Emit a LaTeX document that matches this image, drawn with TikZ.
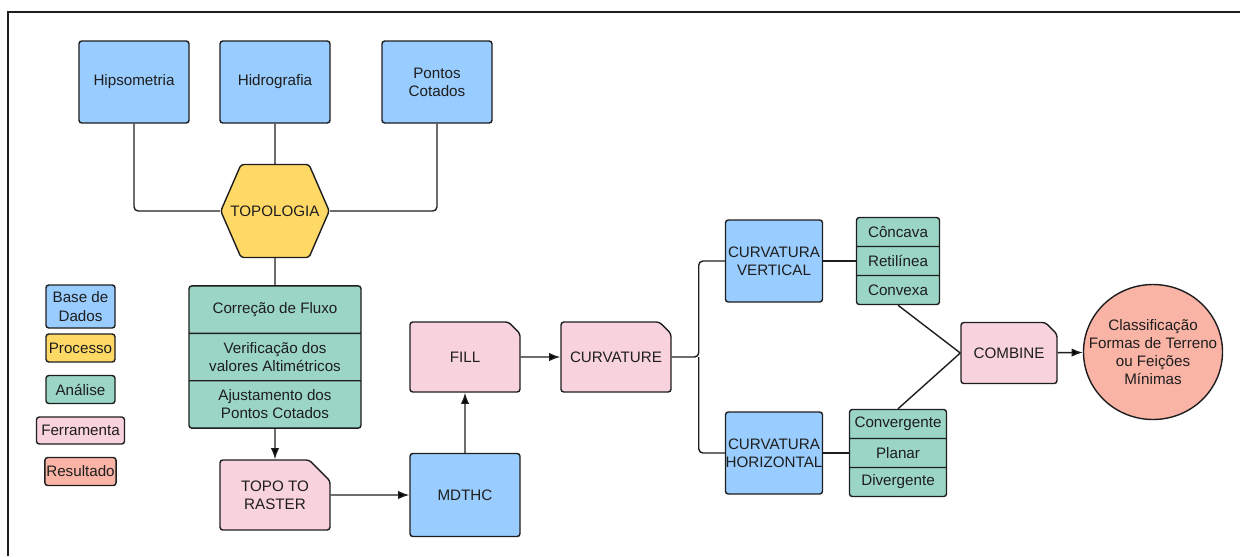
\documentclass[tikz,border=0pt]{standalone}
\usepackage{fontspec}
\setmainfont{Liberation Sans}
\usetikzlibrary{shapes.geometric,shapes.misc,shapes.multipart,shapes.symbols,arrows.meta}
\definecolor{cdados}{HTML}{99CCFF}
\definecolor{cproc}{HTML}{FFD966}
\definecolor{canal}{HTML}{9AD5C5}
\definecolor{cferr}{HTML}{F8D2DC}
\definecolor{cres}{HTML}{F9B4A6}
\definecolor{linha}{HTML}{1E1E1E}
\newcommand{\cellbox}[3]{\parbox[c][#1][c]{#2}{\centering #3}}
\begin{document}
\begin{tikzpicture}[font=\fontsize{10.8}{13}\selectfont, line width=1pt,
  box/.style={draw=linha, rounded corners=2pt, align=center, inner sep=1pt, text=linha},
  dados/.style={box, fill=cdados, minimum width=2.75cm, minimum height=2.05cm},
  ferr/.style={box, fill=cferr, chamfered rectangle, chamfered rectangle corners=north east,
    chamfered rectangle xsep=0.5cm, minimum width=2.75cm, minimum height=1.75cm},
  pilha/.style={draw=linha, fill=canal, rounded corners=2pt, rectangle split, rectangle split parts=3, inner sep=0pt, text=linha},
  leg/.style={box, minimum width=1.725cm, minimum height=0.7cm},
  lig/.style={draw=linha, rounded corners=3pt},
  seta/.style={lig, -{Latex[length=8pt,width=6pt]}}]
\useasboundingbox (0,0) rectangle (31,-13.9);
\draw[linha, line width=1.2pt] (0.2,-13.9) -- (0.2,-0.3) -- (31,-0.3);

% base de dados
\node[dados] (hips) at (3.35,-2.05) {Hipsometria};
\node[dados] (hidro) at (6.875,-2.05) {Hidrografia};
\node[dados] (pontos) at (10.925,-2.05) {Pontos\\Cotados};
\node[box, fill=cproc, signal, signal to=west and east, signal pointer angle=133,
  minimum height=2.325cm, inner sep=0pt] (topol) at (6.875,-5.275) {\makebox[1.7cm]{TOPOLOGIA}};
\node[pilha] (corr) at (6.875,-8.925) {\cellbox{1.15cm}{4.3cm}{Correção de Fluxo}\nodepart{two}\cellbox{1.15cm}{4.3cm}{Verificação dos\\valores Altimétricos}\nodepart{three}\cellbox{1.15cm}{4.3cm}{Ajustamento dos\\Pontos Cotados}};

% legenda
\node[leg, fill=cdados, minimum height=1.075cm] (lbase) at (2.0125,-7.6625) {Base de\\Dados};
\node[leg, fill=cproc] (lproc) at (2.0125,-8.7) {Processo};
\node[leg, fill=canal] (lanal) at (2.0125,-9.7375) {Análise};
\node[leg, fill=cferr, minimum width=2.2cm, minimum height=0.675cm] (lferr) at (2.0125,-10.7625) {Ferramenta};
\node[leg, fill=cres] (lres) at (2.0125,-11.7875) {Resultado};

% ferramentas e modelo
\node[ferr] (topo) at (6.875,-12.375) {TOPO TO\\RASTER};
\node[dados, minimum height=2.075cm] (mdthc) at (11.625,-12.375) {MDTHC};
\node[ferr] (fill) at (11.625,-8.925) {FILL};
\node[ferr] (curv) at (15.4,-8.925) {CURVATURE};
\node[dados, minimum width=2.425cm, inner sep=0pt] (cvert) at (19.35,-6.525) {CURVATURA\\VERTICAL};
\node[dados, minimum width=2.425cm, inner sep=0pt] (chor) at (19.35,-11.325) {CURVATURA\\HORIZONTAL};
\node[pilha] (conc) at (22.45,-6.525) {\cellbox{0.69cm}{2.075cm}{Côncava}\nodepart{two}\cellbox{0.69cm}{2.075cm}{Retilínea}\nodepart{three}\cellbox{0.69cm}{2.075cm}{Convexa}};
\node[pilha] (conv) at (22.45,-11.325) {\cellbox{0.69cm}{2.425cm}{Convergente}\nodepart{two}\cellbox{0.69cm}{2.425cm}{Planar}\nodepart{three}\cellbox{0.69cm}{2.425cm}{Divergente}};
\node[ferr, minimum width=2.4cm, minimum height=1.525cm] (comb) at (25.225,-8.825) {COMBINE};
\node[box, fill=cres, ellipse, minimum width=3.475cm, minimum height=3.375cm, inner sep=-0.45cm] (res) at (28.825,-8.8) {Classificação\\Formas de Terreno\\ou Feições\\Mínimas};

% ligacoes
\draw[lig] (hips.south) |- (topol.west);
\draw[lig] (pontos.south) |- (topol.east);
\draw[lig] (hidro) -- (topol);
\draw[lig] (topol) -- (corr);
\draw[seta] (corr) -- (topo);
\draw[seta] (topo) -- (mdthc);
\draw[seta] (mdthc) -- (fill);
\draw[seta] (fill) -- (curv);
\draw[lig] (curv.east) -- ++(0.675,0) coordinate (ramo) |- (cvert.west);
\draw[lig] (ramo) |- (chor.west);
\draw[lig] (cvert) -- (conc);
\draw[lig] (chor) -- (conv);
\draw[lig] (conc.south) -- (comb.west);
\draw[lig] (conv.north) -- (comb.west);
\draw[seta] (comb) -- (res);
\end{tikzpicture}
\end{document}
